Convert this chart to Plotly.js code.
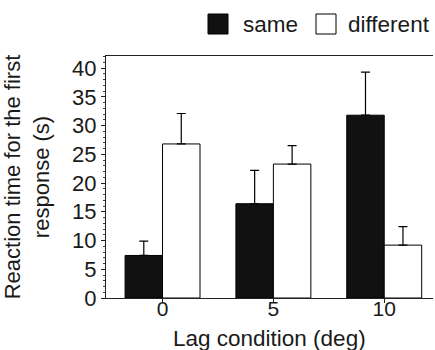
<!DOCTYPE html>
<html>
<head>
<meta charset="utf-8">
<script src="https://cdn.plot.ly/plotly-3.0.1.min.js"></script>
<style>html,body{margin:0;padding:0;background:#fff;}#chart{width:435px;height:350px;}</style>
</head>
<body>
<div id="chart"></div>
<script>
// Data
const categories = ['0', '5', '10'];
const seriesNames = ['same', 'different'];
const sameValues = [7.4, 16.4, 31.8];
const sameErrors = [2.5, 5.8, 7.5];
const diffValues = [26.8, 23.3, 9.2];
const diffErrors = [5.3, 3.2, 3.2];
const yTickVals = [0, 5, 10, 15, 20, 25, 30, 35, 40];
const xTitle = 'Lag condition (deg)';
const yTitle = 'Reaction time for the first<br>response (s)';

const FONT = 'Liberation Sans, Arial, sans-serif';
const TXT = '#1a1a1a';

const traces = [
  {
    type: 'bar', name: seriesNames[0], x: categories, y: sameValues,
    marker: {color: '#111111', line: {color: '#000', width: 1}},
    error_y: {type: 'data', array: sameErrors, arrayminus: sameErrors.map(() => 0), symmetric: false,
              color: '#000', thickness: 1.2, width: 4.5},
    showlegend: false
  },
  {
    type: 'bar', name: seriesNames[1], x: categories, y: diffValues,
    marker: {color: '#ffffff', line: {color: '#000', width: 1}},
    error_y: {type: 'data', array: diffErrors, arrayminus: diffErrors.map(() => 0), symmetric: false,
              color: '#000', thickness: 1.2, width: 4.5},
    showlegend: false
  },
  // invisible carrier so the tick-label axis (x2) is drawn
  {
    type: 'scatter', mode: 'markers', xaxis: 'x2', yaxis: 'y',
    x: categories.map((c, i) => i), y: sameValues,
    marker: {opacity: 0, size: 1}, hoverinfo: 'skip', showlegend: false
  }
];

// manual legend (large squares like the reference)
const plotL = 106, plotR = 433, plotT = 56, plotB = 298;
const px = x => (x - plotL) / (plotR - plotL);
const py = y => (plotB - y) / (plotB - plotT);
const legendItems = [
  {name: seriesNames[0], fill: '#111111', sx: 208, tx: 241},
  {name: seriesNames[1], fill: '#ffffff', sx: 316, tx: 346}
];
const shapes = [];
const annotations = [];
legendItems.forEach(it => {
  shapes.push({type: 'rect', xref: 'paper', yref: 'paper',
    x0: px(it.sx), x1: px(it.sx + 20), y0: py(34), y1: py(14),
    fillcolor: it.fill, line: {color: '#000', width: 1}});
  annotations.push({xref: 'paper', yref: 'paper', x: px(it.tx), y: py(24),
    xanchor: 'left', yanchor: 'middle', showarrow: false, text: it.name,
    font: {family: FONT, size: 22.5, color: TXT}});
});
// x axis title, placed low like the reference
annotations.push({xref: 'paper', yref: 'paper', x: 0.5, y: py(338),
  xanchor: 'center', yanchor: 'middle', showarrow: false, text: xTitle,
  font: {family: FONT, size: 22.5, color: TXT}});

const xRange = [-0.51, 2.44];

const layout = {
  width: 435, height: 350,
  margin: {l: plotL, r: 435 - plotR, t: plotT, b: 350 - plotB},
  paper_bgcolor: '#fff', plot_bgcolor: '#fff',
  barmode: 'group', bargap: 0.324, bargroupgap: 0,
  font: {family: FONT, size: 22, color: TXT},
  showlegend: false,
  xaxis: {
    type: 'category', range: xRange,
    showline: true, linecolor: '#222', linewidth: 1, mirror: true,
    ticks: 'outside', ticklen: 4, tickcolor: '#222',
    showticklabels: false,
    showgrid: false, zeroline: false
  },
  // tick labels, same scale as the category axis, sitting close to the axis line
  xaxis2: {
    overlaying: 'x', anchor: 'free', position: py(294), side: 'bottom',
    range: xRange, autorange: false,
    tickmode: 'array', tickvals: categories.map((c, i) => i), ticktext: categories,
    ticks: '', showticklabels: true, tickfont: {family: FONT, size: 21, color: TXT},
    showline: false, showgrid: false, zeroline: false
  },
  yaxis: {
    range: [0, 42.1], tickvals: yTickVals,
    showline: true, linecolor: '#222', linewidth: 1,
    ticks: 'outside', ticklen: 4, tickcolor: '#222',
    minor: {dtick: 1, ticks: 'outside', ticklen: 2, tickcolor: '#444'},
    showgrid: false, zeroline: false,
    tickfont: {family: FONT, size: 22, color: TXT},
    title: {text: yTitle, font: {family: FONT, size: 22, color: TXT}, standoff: 16}
  },
  shapes: shapes,
  annotations: annotations
};

Plotly.newPlot('chart', traces, layout, {displayModeBar: false, staticPlot: true});
</script>
</body>
</html>
